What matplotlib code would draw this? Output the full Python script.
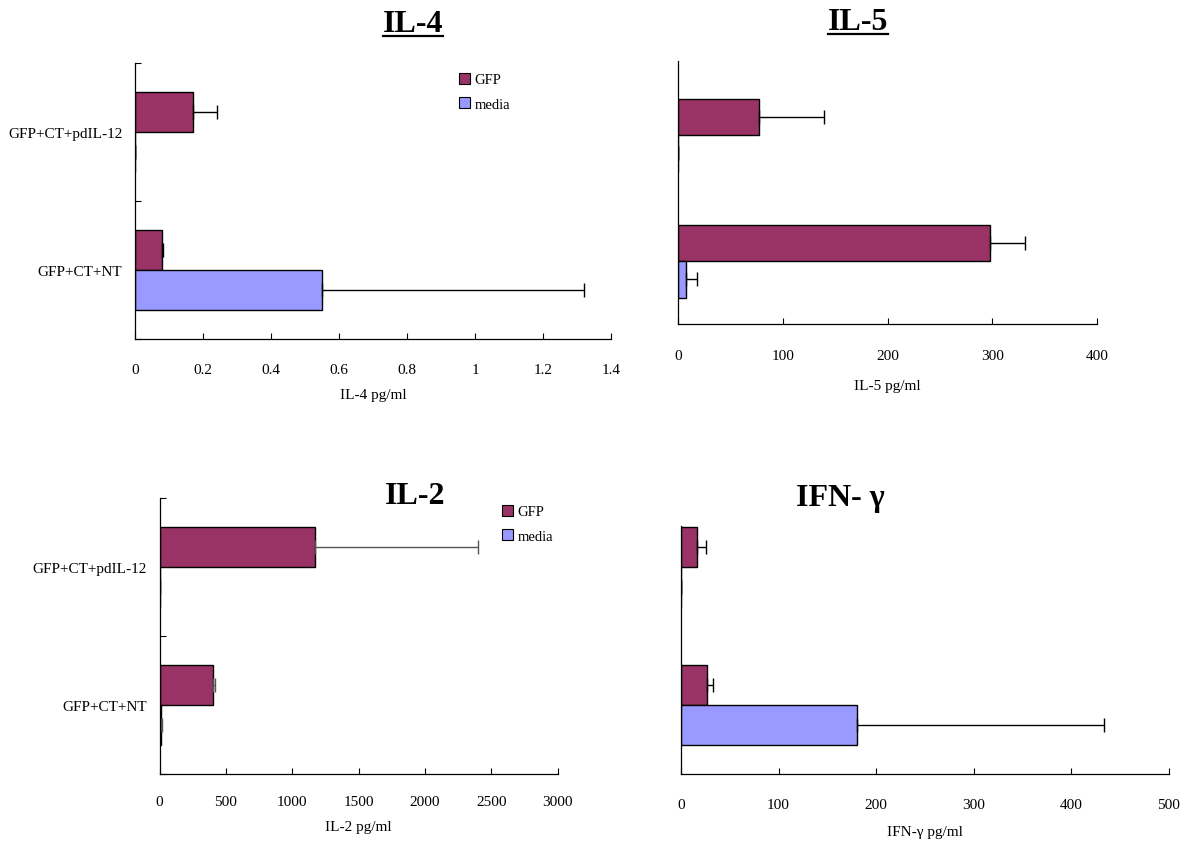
import numpy as np
import matplotlib
matplotlib.use("Agg")
import matplotlib.pyplot as plt
from matplotlib.patches import Patch
from matplotlib.lines import Line2D

plt.rcParams['font.family'] = ['Liberation Serif', 'DejaVu Serif']

# groups, bottom to top
categories = ["GFP+CT+NT", "GFP+CT+pdIL-12"]
series = ["GFP", "media"]

il4_gfp = [0.08, 0.17]
il4_gfp_err = [0.003, 0.07]
il4_media = [0.55, 0.0]
il4_media_err = [0.77, 0.0]

il5_gfp = [298, 77]
il5_gfp_err = [33, 62]
il5_media = [8, 0]
il5_media_err = [10, 0]

il2_gfp = [400, 1170]
il2_gfp_err = [22, 1230]
il2_media = [15, 0]
il2_media_err = [5, 0]

ifn_gfp = [27, 16]
ifn_gfp_err = [6, 10]
ifn_media = [180, 0]
ifn_media_err = [254, 0]

GFP_COLOR = "#993366"
MEDIA_COLOR = "#9999FF"

W, H = 1184, 845
fig = plt.figure(figsize=(W / 100, H / 100), dpi=100)


def px_axes(left, top, right, bottom):
    return fig.add_axes([left / W, 1 - bottom / H, (right - left) / W, (bottom - top) / H])


def panel(box, gfp, gfp_err, media, media_err, xmax, xstep, xlabel, label_y,
          ytop=2.0, show_cats=False, ecolor="black", tickpad=13):
    ax = px_axes(*box)
    y = np.arange(len(categories)) + 0.5
    h = 0.29
    ax.barh(y + h / 2, gfp, height=h, color=GFP_COLOR, edgecolor="black", lw=1)
    ax.barh(y - h / 2, media, height=h, color=MEDIA_COLOR, edgecolor="black", lw=1)
    zeros = np.zeros(len(y))
    ax.errorbar(gfp, y + h / 2, xerr=[zeros, gfp_err], fmt="none", ecolor=ecolor,
                elinewidth=1, capsize=5, capthick=1)
    ax.errorbar(media, y - h / 2, xerr=[zeros, media_err], fmt="none", ecolor=ecolor,
                elinewidth=1, capsize=5, capthick=1)

    ax.set_xlim(0, xmax)
    ax.set_ylim(0, ytop)
    ax.set_xticks(np.arange(0, xmax + xstep / 2, xstep))
    ax.xaxis.set_major_formatter(matplotlib.ticker.FuncFormatter(lambda v, p: f"{v:g}"))
    ax.tick_params(axis="x", direction="in", length=4, width=0.8, labelsize=11, pad=tickpad)
    for s in ["top", "right"]:
        ax.spines[s].set_visible(False)
    for s in ["left", "bottom"]:
        ax.spines[s].set_linewidth(0.9)

    if show_cats:
        ax.set_yticks([0, 1, 2])
        ax.set_yticklabels([])
        ax.set_yticks(y, minor=True)
        ax.set_yticklabels(categories, minor=True, fontsize=11)
        ax.tick_params(axis="y", which="major", direction="in", length=4, width=0.8)
        ax.tick_params(axis="y", which="minor", length=0, pad=9)
    else:
        ax.set_yticks([])

    ax.set_xlabel(xlabel, fontsize=11)
    ax.xaxis.set_label_coords(0.5, -(label_y - box[3]) / (box[3] - box[1]))
    ax.xaxis.label.set_va("center")
    return ax


def title(text, x, y, underline=False):
    t = fig.text(x / W, 1 - y / H, text, fontsize=23, fontweight="bold",
                 ha="center", va="center")
    if underline:
        fig.canvas.draw()
        bb = t.get_window_extent()
        fig.add_artist(Line2D([bb.x0 / W, bb.x1 / W], [(bb.y0 + 3) / H, (bb.y0 + 3) / H],
                              color="black", lw=1.6, transform=fig.transFigure))
    return t


def legend(ax, x, y):
    handles = [Patch(facecolor=GFP_COLOR, edgecolor="black", lw=0.8),
               Patch(facecolor=MEDIA_COLOR, edgecolor="black", lw=0.8)]
    ax.legend(handles, series, frameon=False, loc="upper left",
              bbox_to_anchor=(x / W, 1 - y / H), bbox_transform=fig.transFigure,
              handlelength=0.75, handleheight=0.75, handletextpad=0.3,
              labelspacing=0.75, fontsize=10.5, borderpad=0, borderaxespad=0)


ax1 = panel((135, 64, 611, 340), il4_gfp, il4_gfp_err, il4_media, il4_media_err,
            1.4, 0.2, "IL-4 pg/ml", 395, show_cats=True, tickpad=17)
legend(ax1, 459, 74)

ax2 = panel((678, 62, 1097, 325), il5_gfp, il5_gfp_err, il5_media, il5_media_err,
            400, 100, "IL-5 pg/ml", 387, ytop=2.09, tickpad=18)

ax3 = panel((159.5, 499, 557.5, 775), il2_gfp, il2_gfp_err, il2_media, il2_media_err,
            3000, 500, "IL-2 pg/ml", 828, show_cats=True, ecolor="#555555", tickpad=15)
legend(ax3, 502, 506)

ax4 = panel((681, 499, 1168.5, 775), ifn_gfp, ifn_gfp_err, ifn_media, ifn_media_err,
            500, 100, "IFN-γ pg/ml", 833, tickpad=17)
ax4.spines["left"].set_bounds(0, 1.8)

title("IL-4", 413, 25, underline=True)
title("IL-5", 858, 23, underline=True)
title("IL-2", 415, 497)
title("IFN- γ", 840, 499)

fig.savefig("out.png", dpi=100)
